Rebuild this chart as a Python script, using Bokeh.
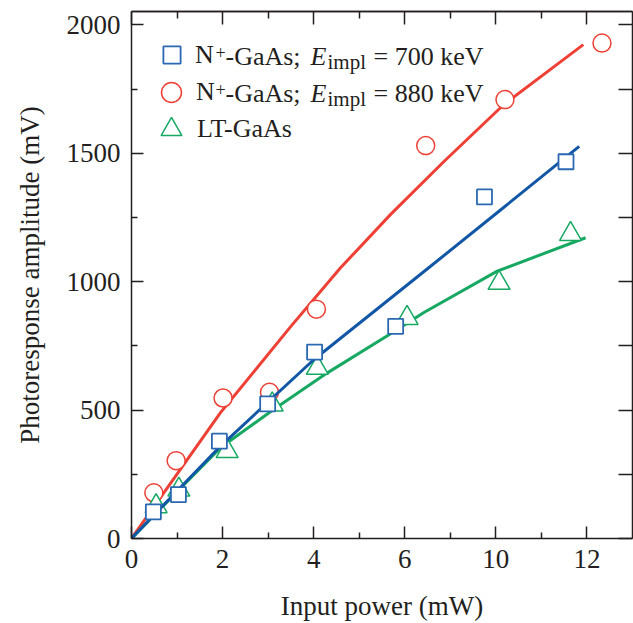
from bokeh.plotting import figure
from bokeh.models import LinearAxis, FixedTicker, Label, Legend, LegendItem
from bokeh.core.properties import value
from bokeh.embed import file_html
from bokeh.resources import INLINE

# ---- data ----
power_700 = [0.48, 1.03, 1.93, 2.99, 4.02, 5.80, 7.75, 9.54]
amp_700 = [104, 171, 379, 524, 726, 826, 1330, 1467]
power_880 = [0.49, 0.98, 2.01, 3.03, 4.06, 6.46, 8.20, 10.33]
amp_880 = [178, 303, 547, 569, 893, 1530, 1709, 1929]
power_lt = [0.54, 1.04, 2.10, 3.09, 4.08, 6.05, 8.07, 9.64]
amp_lt = [125, 190, 340, 521, 664, 858, 995, 1185]

fit_x_700 = [0, 1.0, 1.95, 4.0, 6.56, 8.15, 9.83]
fit_y_700 = [0, 185, 359, 696, 1059, 1286, 1527]
fit_x_880 = [0, 1.95, 3.49, 4.59, 5.69, 6.86, 8.17, 9.92]
fit_y_880 = [0, 489, 824, 1054, 1262, 1468, 1689, 1923]
fit_x_lt = [0, 1.0, 1.95, 3.12, 4.30, 5.76, 6.42, 8.03, 9.97]
fit_y_lt = [0, 182, 353, 502, 645, 805, 880, 1041, 1171]

x_ticks = [0, 2, 4, 6, 8, 10]
x_tick_labels = ["0", "2", "4", "6", "10", "12"]
x_minor = [1, 3, 5, 7, 9]
y_ticks = [0, 500, 1000, 1500, 2000]
y_minor = [250, 750, 1250, 1750]

legend_first = ["N", "N", "LT-GaAs"]
energies = ["700", "880"]

# ---- style ----
FONT = "Liberation Serif"
TXT = "#231F20"
RED = "#EE4035"
BLUE = "#1257A6"
BLUE_M = "#2A68B2"
GREEN = "#17A862"

W, H = 633, 623
X_END, Y_END = 11, 2052
p = figure(width=W, height=H, x_range=(0, X_END), y_range=(0, Y_END),
           output_backend="svg", toolbar_location=None,
           min_border_left=131, min_border_right=1, min_border_top=11, min_border_bottom=84)
p.grid.visible = False
p.outline_line_color = None
p.background_fill_color = "white"
p.border_fill_color = "white"


def style_axis(ax, tick_len, minor_len):
    ax.axis_line_width = 1.5
    ax.axis_line_color = TXT
    ax.major_tick_line_color = TXT
    ax.minor_tick_line_color = TXT
    ax.major_tick_line_width = 1.5
    ax.minor_tick_line_width = 1.5
    ax.major_tick_in = tick_len
    ax.major_tick_out = 0
    ax.minor_tick_in = minor_len
    ax.minor_tick_out = 0
    ax.major_label_text_font = FONT
    ax.major_label_text_font_size = "27px"
    ax.major_label_text_color = TXT
    ax.axis_label_text_font = FONT
    ax.axis_label_text_font_size = "27px"
    ax.axis_label_text_font_style = "normal"
    ax.axis_label_text_color = TXT


xa = p.xaxis[0]
xa.ticker = FixedTicker(ticks=x_ticks, minor_ticks=x_minor)
xa.major_label_overrides = dict(zip(x_ticks, x_tick_labels))
xa.axis_label = "Input power (mW)"
style_axis(xa, 12, 6)
xa.major_label_standoff = 11
xa.axis_label_standoff = 20

ya = p.yaxis[0]
ya.ticker = FixedTicker(ticks=y_ticks, minor_ticks=y_minor)
ya.axis_label = "Photoresponse amplitude (mV)"
style_axis(ya, 12, 6)
ya.major_label_standoff = 11
ya.axis_label_standoff = 19

# mirror axes: tick marks only (drawn as minor ticks, so no labels)
for ticks, length in ((x_ticks, 13), (x_minor, 7)):
    ax = LinearAxis(ticker=FixedTicker(ticks=[], minor_ticks=ticks))
    style_axis(ax, 0, length)
    ax.major_label_standoff = 0
    p.add_layout(ax, "above")
ax = LinearAxis(ticker=FixedTicker(ticks=[], minor_ticks=y_ticks + y_minor))
style_axis(ax, 0, 14)
ax.major_label_standoff = 0
p.add_layout(ax, "right")

# ---- series (lines under markers) ----
p.line(fit_x_880, fit_y_880, line_color=RED, line_width=3)
r880 = p.scatter(power_880, amp_880, marker="circle", size=18, fill_color="white",
                 line_color=RED, line_width=1.5)
p.line(fit_x_lt, fit_y_lt, line_color=GREEN, line_width=3)
rlt = p.scatter(power_lt, amp_lt, marker="triangle", size=22, fill_color="white",
                line_color=GREEN, line_width=1.5)
p.line(fit_x_700, fit_y_700, line_color=BLUE, line_width=3)
r700 = p.scatter(power_700, amp_700, marker="square", size=15, fill_color="white",
                 line_color=BLUE_M, line_width=1.8)

# legend: one single-row legend per entry (key symbol size = 0.4 * glyph box)
FRAME_TOP, FRAME_H = 11, 528
for rend, lab, gb, left, standoff, cy in ((r700, legend_first[0], 43, 19, 2, 56),
                                          (r880, legend_first[1], 50, 15, 0, 93),
                                          (rlt, legend_first[2], 52, 14, 0, 130)):
    loc_y = int(round(FRAME_H - (cy - gb / 2 - FRAME_TOP) - gb))
    lg = Legend(items=[LegendItem(label=value(lab), renderers=[rend])],
                location=(left, loc_y), orientation="vertical", padding=0, margin=0,
                spacing=0, glyph_width=gb, glyph_height=gb, label_height=gb,
                label_standoff=standoff, label_text_font=FONT, label_text_font_size="26px",
                label_text_color=TXT, label_text_baseline="middle",
                border_line_alpha=0, background_fill_alpha=0)
    p.add_layout(lg)

# ---- rest of the legend texts (page pixel -> data coords) ----
FX0, FY0 = 131, 539
SX = 501 / X_END
SY = 528 / Y_END


def dx(px):
    return (px - FX0) / SX


def dy(py):
    return (FY0 - py) / SY


def txt(px, py, s, size="26px", style="normal"):
    p.add_layout(Label(x=dx(px), y=dy(py), text=s, text_font=FONT, text_font_size=size,
                       text_font_style=style, text_color=TXT, text_align="left",
                       text_baseline="middle"))


for mid, energy in ((56, energies[0]), (93, energies[1])):
    txt(215, mid - 4, "+", size="18px")
    txt(225, mid, "-GaAs;")
    txt(310, mid, "E", style="italic")
    txt(327, mid + 5.5, "impl", size="21px")
    txt(373, mid, "= " + energy + " keV")

p.add_layout(Label(x=dx(15), y=dy(608), text="Z2649", text_font=FONT, text_font_size="16px",
                   text_color=TXT, text_align="left", text_baseline="top"))

open("out.html", "w").write(file_html(p, INLINE))
